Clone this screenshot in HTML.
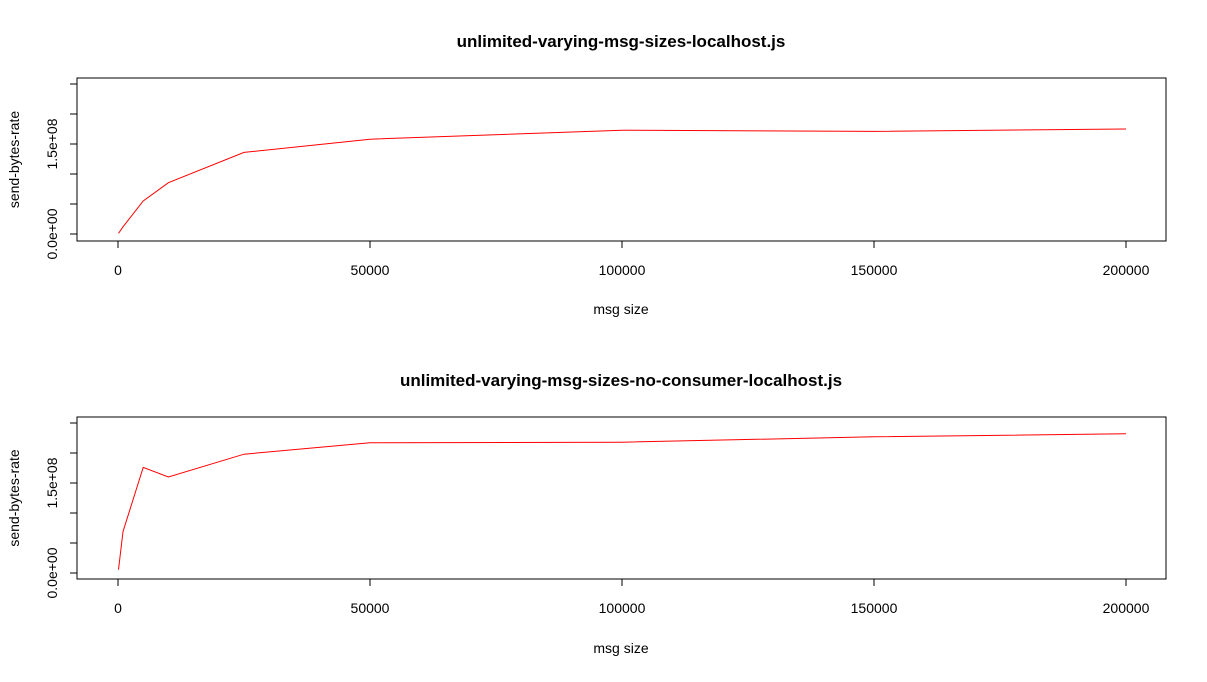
<!DOCTYPE html>
<html><head><meta charset="utf-8"><style>
body{margin:0;background:#fff;}
svg text{font-family:"Liberation Sans",Arial,sans-serif;fill:#000;}
</style></head><body>
<svg id="s" width="1207" height="677" xmlns="http://www.w3.org/2000/svg"></svg>
<script>
const xs = [100, 1000, 5000, 10000, 25000, 50000, 100000, 150000, 200000];
const rate1 = [1e6, 1.2e7, 5.5e7, 8.55e7, 1.36e8, 1.58e8, 1.73e8, 1.71e8, 1.75e8];
const rate2 = [5.5e6, 6.9e7, 1.76e8, 1.6e8, 1.98e8, 2.17e8, 2.18e8, 2.27e8, 2.32e8];
const xTicks = [0, 50000, 100000, 150000, 200000];
const yTicks = [0, 5e7, 1e8, 1.5e8, 2e8, 2.5e8];
const yLabels = {0:"0.0e+00", 150000000:"1.5e+08"};
const titles = ["unlimited-varying-msg-sizes-localhost.js","unlimited-varying-msg-sizes-no-consumer-localhost.js"];
const NS="http://www.w3.org/2000/svg";
const svg=document.getElementById('s');
function mk(t,a,p){const e=document.createElementNS(NS,t);for(const k in a)e.setAttribute(k,a[k]);(p||svg).appendChild(e);return e;}
const panels=[{top:78,bot:241,zero:234,data:rate1,title:41,xl:270,xt:309},{top:417,bot:579,zero:573,data:rate2,title:380,xl:608,xt:648}];
panels.forEach((P,i)=>{
  const g=mk('g',{});
  
  
  const X=v=>118+v*1008/200000;
  const Y=v=>P.zero-v*90/1.5e8;
  const box=mk('rect',{x:77,y:P.top,width:1089,height:P.bot-P.top,fill:'none',stroke:'#000','stroke-width':1},g);
  
  
  const t=mk('text',{x:621,y:P.title+6,'text-anchor':'middle','font-size':17,'font-weight':'bold'},g);
  t.textContent=titles[i];
  
  
  mk('line',{x1:X(0),x2:X(200000),y1:P.bot,y2:P.bot,stroke:'#000'},g);
  xTicks.forEach(v=>{
    mk('line',{x1:X(v),x2:X(v),y1:P.bot,y2:P.bot+7,stroke:'#000'},g);
    const l=mk('text',{x:X(v),y:P.xl+5,'text-anchor':'middle','font-size':14},g);
    l.textContent=v;
    
    
  });
  const xt=mk('text',{x:621,y:P.xt+5,'text-anchor':'middle','font-size':14},g);
  xt.textContent='msg size';
  
  
  mk('line',{x1:77,x2:77,y1:Y(0),y2:Y(2.5e8),stroke:'#000'},g);
  mk('line',{x1:70,x2:77,y1:Y(0),y2:Y(0),stroke:'#000'},g);
  yTicks.forEach(v=>{
    mk('line',{x1:70,x2:77,y1:Y(v),y2:Y(v),stroke:'#000'},g);
    if(yLabels[v]!==undefined){
      const l=mk('text',{x:0,y:0,'text-anchor':'middle','font-size':14,transform:`translate(57,${Y(v)}) rotate(-90)`},g);
      l.textContent=yLabels[v];
      
      
    }
  });
  const yt=mk('text',{x:0,y:0,'text-anchor':'middle','font-size':14,transform:`translate(19,${(P.top+P.bot)/2}) rotate(-90)`},g);
  yt.textContent='send-bytes-rate';
  
  
  const pts=xs.map((x,j)=>X(x).toFixed(1)+','+Y(P.data[j]).toFixed(1)).join(' ');
  const ln=mk('polyline',{points:pts,fill:'none',stroke:'#f00','stroke-width':1},g);
  
  
});
</script>
</body></html>
